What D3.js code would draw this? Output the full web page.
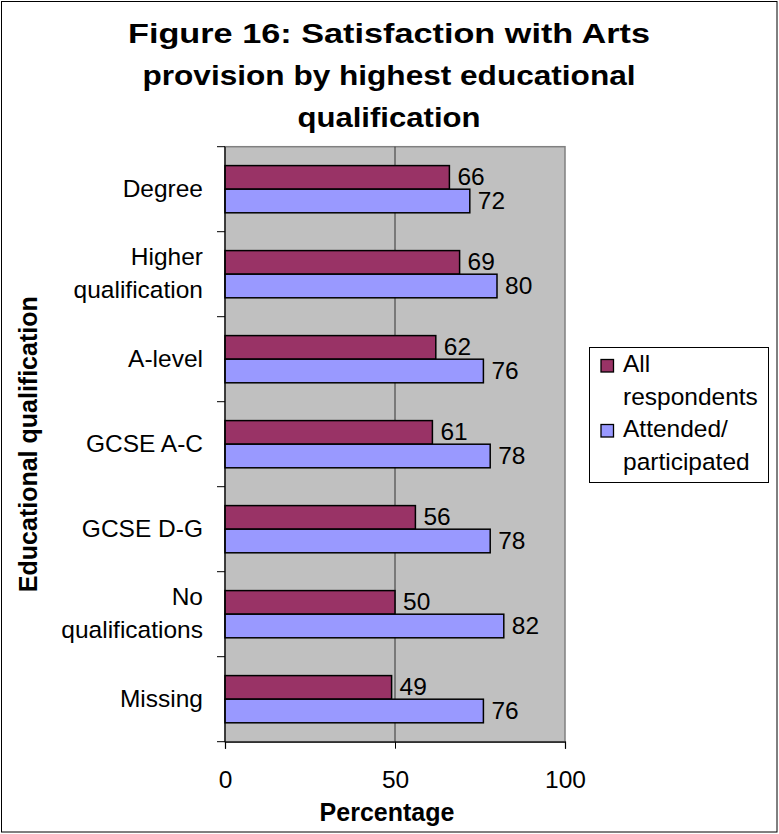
<!DOCTYPE html>
<html><head><meta charset="utf-8">
<script src="https://cdn.jsdelivr.net/npm/d3@7"></script>
<style>body{margin:0;background:#fff}svg{display:block}text{font-family:Arial,"Liberation Sans",sans-serif}</style>
</head><body>
<script>
const categories = [["Degree"],["Higher","qualification"],["A-level"],["GCSE A-C"],["GCSE D-G"],["No","qualifications"],["Missing"]];
const catKeys = ["Degree","Higher qualification","A-level","GCSE A-C","GCSE D-G","No qualifications","Missing"];
const allRespondents = [66,69,62,61,56,50,49];
const attended = [72,80,76,78,78,82,76];
const seriesNames = [["All","respondents"],["Attended/","participated"]];
const seriesColors = ["#993366","#9999FF"];
const xTicks = [0,50,100];
const titleLines = ["Figure 16: Satisfaction with Arts","provision by highest educational","qualification"];
const titleWidths = [522,493,183];

const W=779,H=834, FS=24.5;
const svg=d3.select("body").append("svg").attr("width",W).attr("height",H);
svg.append("rect").attr("x",1.5).attr("y",1.5).attr("width",W-3.5).attr("height",H-3.5).attr("fill","#fff").attr("stroke","#000").attr("stroke-width",1);

const L=225,R=565,T=146.7,B=741.7;
const x=d3.scaleLinear().domain([0,100]).range([L,R]);
const y=d3.scaleBand().domain(catKeys).range([T,B]);
const barH=23.6;

svg.append("rect").attr("x",L).attr("y",T).attr("width",R-L).attr("height",B-T).attr("fill","#C0C0C0").attr("stroke","#808080").attr("stroke-width",1.5);
svg.selectAll("line.grid").data(xTicks.filter(d=>d>0&&d<100)).enter().append("line")
  .attr("x1",d=>x(d)).attr("x2",d=>x(d)).attr("y1",T).attr("y2",B).attr("stroke","#333").attr("stroke-width",1);

// title
svg.selectAll("text.title").data(titleLines).enter().append("text")
  .attr("x",389).attr("y",(d,i)=>43+i*42).attr("text-anchor","middle")
  .attr("font-size",28).attr("font-weight","bold")
  .attr("textLength",(d,i)=>titleWidths[i]).attr("lengthAdjust","spacingAndGlyphs")
  .text(d=>d);

// bars
const series=[allRespondents,attended];
series.forEach((vals,s)=>{
  const g=svg.append("g");
  g.selectAll("rect").data(vals).enter().append("rect")
    .attr("x",L).attr("y",(d,i)=>y(catKeys[i])+y.bandwidth()/2-barH+s*barH)
    .attr("width",d=>x(d)-L).attr("height",barH)
    .attr("fill",seriesColors[s]).attr("stroke","#000").attr("stroke-width",1.5);
  g.selectAll("text").data(vals).enter().append("text")
    .attr("x",d=>x(d)+8).attr("y",(d,i)=>y(catKeys[i])+y.bandwidth()/2-barH/2+s*barH+7.5)
    .attr("font-size",FS).text(d=>d);
});

// axes
const xa=svg.append("g").attr("transform",`translate(0,${B})`)
  .call(d3.axisBottom(x).tickValues(xTicks).tickSize(7).tickPadding(8));
xa.select(".domain").attr("stroke","#000").attr("stroke-width",1.2);
xa.selectAll("line").attr("stroke","#000");
xa.selectAll("text").attr("font-size",FS).attr("font-family","Arial,'Liberation Sans',sans-serif").attr("fill","#000").attr("dy",null).attr("y",46);

svg.append("line").attr("x1",L).attr("x2",L).attr("y1",T).attr("y2",B).attr("stroke","#000").attr("stroke-width",1.2);
const bounds=d3.range(catKeys.length+1).map(i=>T+i*y.step());
svg.selectAll("line.ct").data(bounds).enter().append("line")
  .attr("x1",L-8).attr("x2",L).attr("y1",d=>d).attr("y2",d=>d).attr("stroke","#000");

// category labels
categories.forEach((lines,i)=>{
  const cy=y(catKeys[i])+y.bandwidth()/2;
  const t=svg.append("text").attr("text-anchor","end").attr("font-size",FS);
  lines.forEach((ln,j)=>{
    t.append("tspan").attr("x",203).attr("y",cy+7.5+(j-(lines.length-1)/2)*33).text(ln);
  });
});

// axis titles
svg.append("text").attr("x",387).attr("y",821).attr("text-anchor","middle").attr("font-size",25).attr("font-weight","bold").text("Percentage");
svg.append("text").attr("transform",`translate(37,${(T+B)/2}) rotate(-90)`).attr("text-anchor","middle").attr("font-size",25).attr("font-weight","bold").text("Educational qualification");

// legend
svg.append("rect").attr("x",589.5).attr("y",347.5).attr("width",179).attr("height",135).attr("fill","#fff").attr("stroke","#000");
seriesNames.forEach((lines,s)=>{
  const base=372+s*65;
  svg.append("rect").attr("x",601).attr("y",base-12.5).attr("width",12.5).attr("height",12.5).attr("fill",seriesColors[s]).attr("stroke","#000").attr("stroke-width",1.3);
  const t=svg.append("text").attr("font-size",FS);
  lines.forEach((ln,j)=>t.append("tspan").attr("x",623).attr("y",base+j*32.5).text(ln));
});
</script>
</body></html>
